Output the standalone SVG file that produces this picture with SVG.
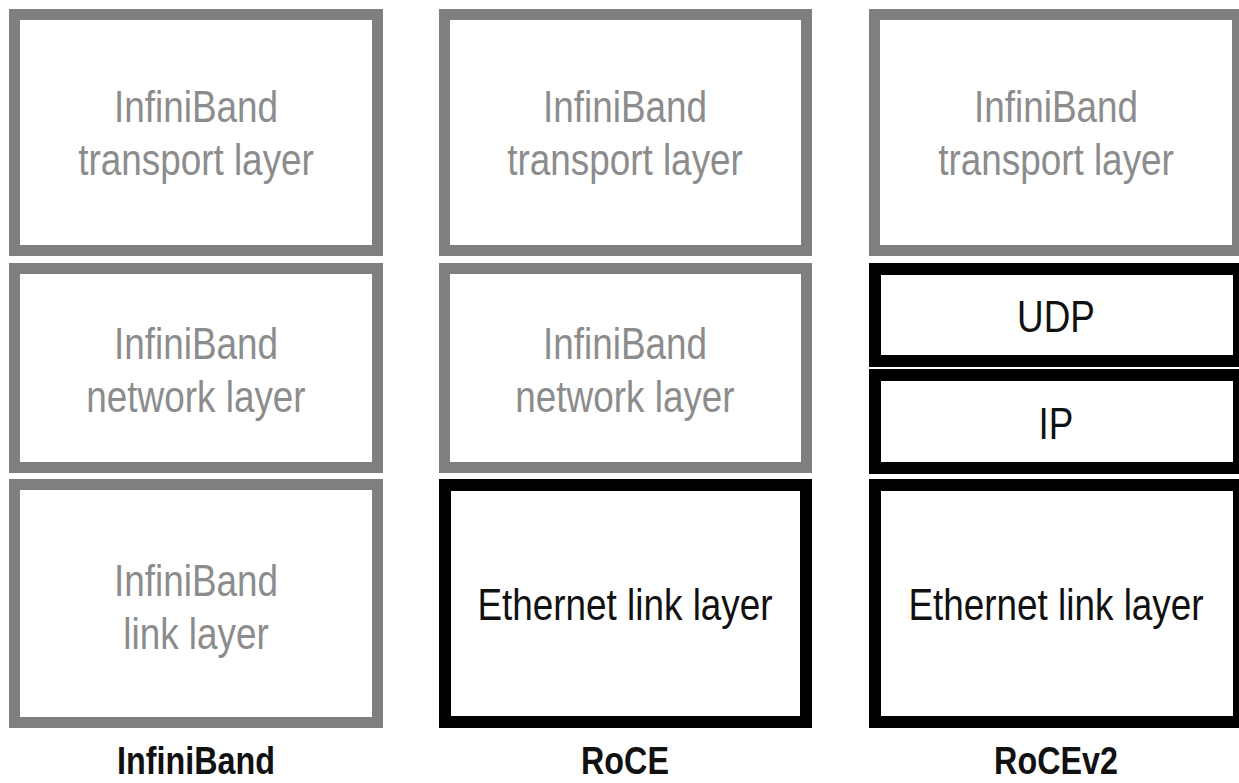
<svg xmlns="http://www.w3.org/2000/svg" width="1239" height="783" viewBox="0 0 1239 783">
<style>
.g{fill:#ffffff;stroke:#7f7f7f;stroke-width:11}
.k{fill:#ffffff;stroke:#000000;stroke-width:12}
.t{font-family:"Liberation Sans",Arial,sans-serif;font-size:45px;text-anchor:middle}
.tg{fill:#8c8c8c}
.tk{fill:#111111}
.b{font-family:"Liberation Sans",Arial,sans-serif;font-size:38px;font-weight:bold;text-anchor:middle;fill:#111111}
</style>
<rect width="1239" height="783" fill="#ffffff"/>
<g id="ib-transport">
<rect class="g" x="14.5" y="14.5" width="363" height="236"/>
<text class="t tg" transform="translate(196,122) scale(0.82,1)">InfiniBand</text>
<text class="t tg" transform="translate(196,175) scale(0.82,1)">transport layer</text>
</g>
<g id="ib-network">
<rect class="g" x="14.5" y="268.5" width="363" height="199"/>
<text class="t tg" transform="translate(196,359) scale(0.82,1)">InfiniBand</text>
<text class="t tg" transform="translate(196,412) scale(0.82,1)">network layer</text>
</g>
<g id="ib-link">
<rect class="g" x="14.5" y="484.5" width="363" height="238"/>
<text class="t tg" transform="translate(196,596) scale(0.82,1)">InfiniBand</text>
<text class="t tg" transform="translate(196,649) scale(0.82,1)">link layer</text>
</g>
<g id="roce-transport">
<rect class="g" x="444.5" y="14.5" width="362" height="236"/>
<text class="t tg" transform="translate(625,122) scale(0.82,1)">InfiniBand</text>
<text class="t tg" transform="translate(625,175) scale(0.82,1)">transport layer</text>
</g>
<g id="roce-network">
<rect class="g" x="444.5" y="268.5" width="362" height="199"/>
<text class="t tg" transform="translate(625,359) scale(0.82,1)">InfiniBand</text>
<text class="t tg" transform="translate(625,412) scale(0.82,1)">network layer</text>
</g>
<g id="roce-link">
<rect class="k" x="445" y="485" width="361" height="237"/>
<text class="t tk" transform="translate(625,620) scale(0.82,1)">Ethernet link layer</text>
</g>
<g id="rocev2-transport">
<rect class="g" x="874.5" y="14.5" width="363" height="236"/>
<text class="t tg" transform="translate(1056,122) scale(0.82,1)">InfiniBand</text>
<text class="t tg" transform="translate(1056,175) scale(0.82,1)">transport layer</text>
</g>
<g id="rocev2-udp">
<rect class="k" x="875" y="269" width="364" height="92"/>
<text class="t tk" transform="translate(1056,332) scale(0.82,1)">UDP</text>
</g>
<g id="rocev2-ip">
<rect class="k" x="875" y="375" width="364" height="93"/>
<text class="t tk" transform="translate(1056,439) scale(0.82,1)">IP</text>
</g>
<g id="rocev2-link">
<rect class="k" x="875" y="485" width="364" height="237"/>
<text class="t tk" transform="translate(1056,620) scale(0.82,1)">Ethernet link layer</text>
</g>
<g id="labels">
<text class="b" transform="translate(196,774) scale(0.85,1)">InfiniBand</text>
<text class="b" transform="translate(625,774) scale(0.85,1)">RoCE</text>
<text class="b" transform="translate(1056,774) scale(0.85,1)">RoCEv2</text>
</g>
<g id="connectors"/>
</svg>
